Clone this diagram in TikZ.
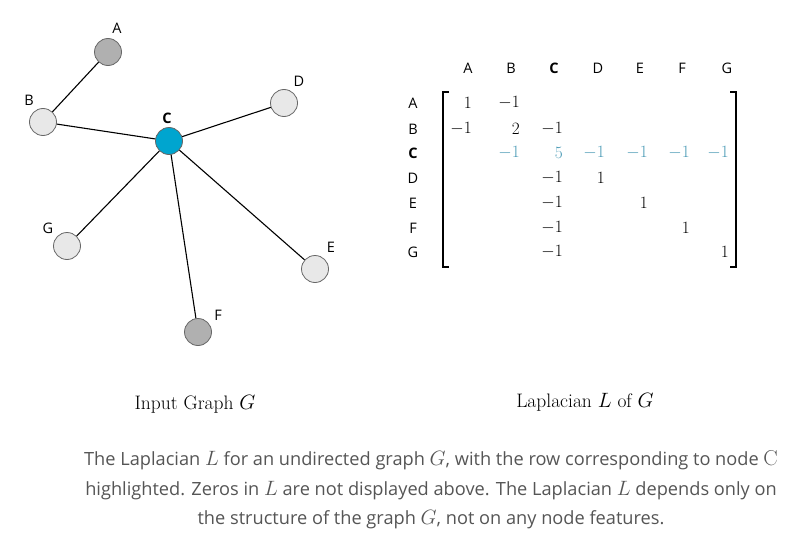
\documentclass[tikz,border=0pt]{standalone}
\usepackage{fontspec}
\setsansfont{Open Sans}
\definecolor{hiblue}{HTML}{00A5CF}
\definecolor{rowblue}{HTML}{4A9AB5}
\definecolor{darkgr}{HTML}{B0B0B0}
\definecolor{lightgr}{HTML}{E8E8E8}
\definecolor{captgr}{HTML}{555555}
\tikzset{
  vert/.style={circle, draw=black!60, line width=0.8pt, minimum size=27pt, inner sep=0pt},
  vlab/.style={font=\sffamily\fontsize{14.5}{16}\selectfont, inner sep=0pt},
  entry/.style={anchor=east, inner sep=0pt, font=\fontsize{17.5}{19}\selectfont},
}
\newcommand{\capmath}[1]{{\fontsize{21.5}{22}\selectfont$#1$}}
\begin{document}
\begin{tikzpicture}[x=1pt,y=-1pt]
\useasboundingbox (0,0) rectangle (800,543);
% graph
\node[vert, fill=darkgr] (A) at (108,52){};
\node[vert, fill=lightgr] (B) at (43,122){};
\node[vert, fill=hiblue] (C) at (169,141){};
\node[vert, fill=lightgr] (D) at (284,103){};
\node[vert, fill=lightgr] (E) at (315,269){};
\node[vert, fill=darkgr] (F) at (198,332){};
\node[vert, fill=lightgr] (G) at (67,246){};
\draw[line width=1.1pt](A) -- (B);
\draw[line width=1.1pt](B) -- (C);
\draw[line width=1.1pt](C) -- (D);
\draw[line width=1.1pt](C) -- (E);
\draw[line width=1.1pt](C) -- (F);
\draw[line width=1.1pt](C) -- (G);
\node[vlab] (labA) at (117,28){A};
\node[vlab] (labB) at (29,100){B};
\node[vlab, font=\sffamily\bfseries\fontsize{14.5}{16}\selectfont] (labC) at (167,118){C};
\node[vlab] (labD) at (299,81){D};
\node[vlab] (labE) at (331,247){E};
\node[vlab] (labF) at (218,315){F};
\node[vlab] (labG) at (48,228){G};

% matrix
\foreach \n/\x in {A/468,B/511,D/598,E/640,F/682,G/727}
  \node[vlab] (col\n) at (\x,68){\n};
\node[vlab, font=\sffamily\bfseries\fontsize{14.5}{16}\selectfont] (colC) at (554,68){C};
\foreach \n/\y in {A/103,B/129,D/178,E/203,F/228,G/252}
  \node[vlab] (row\n) at (413,\y){\n};
\node[vlab, font=\sffamily\bfseries\fontsize{14.5}{16}\selectfont] (rowC) at (413,153){C};
\draw[line width=1.3pt] (449,92) -- (443,92) -- (443,267) -- (449,267);
\draw[line width=1.3pt] (730,92) -- (736,92) -- (736,267) -- (730,267);
% row A, B
\node[entry] (lAA) at (472,103){$1$};
\node[entry] (lAB) at (520,103){$-1$};
\node[entry] (lBA) at (472,129){$-1$};
\node[entry] (lBB) at (520,129){$2$};
\node[entry] (lBC) at (563,129){$-1$};
% row C
\node[entry, text=rowblue] (lCB) at (520,153){$-1$};
\node[entry, text=rowblue] (lCC) at (563,153){$5$};
\foreach \n/\x in {D/605,E/648,F/690,G/729}
  \node[entry, text=rowblue] (lC\n) at (\x,153){$-1$};
% rows D to G
\foreach \n/\x/\y in {D/605/178,E/648/203,F/690/228,G/729/252}{
  \node[entry] (l\n C) at (563,\y){$-1$};
  \node[entry] (l\n\n) at (\x,\y){$1$};
}

% captions
\node[font=\fontsize{19.5}{21}\selectfont] (capG) at (195,404){Input Graph $G$};
\node[font=\fontsize{19.5}{21}\selectfont] (capL) at (585,402){Laplacian $L$ of $G$};
\node[align=center, text=captgr, font=\sffamily\fontsize{18.2}{29.5}\selectfont] (note) at (431,490)
  {The Laplacian \capmath{L} for an undirected graph \capmath{G}, with the row corresponding to node \capmath{\mathrm{C}}\\
   highlighted. Zeros in \capmath{L} are not displayed above. The Laplacian \capmath{L} depends only on\\
   the structure of the graph \capmath{G}, not on any node features.};
\end{tikzpicture}
\end{document}
